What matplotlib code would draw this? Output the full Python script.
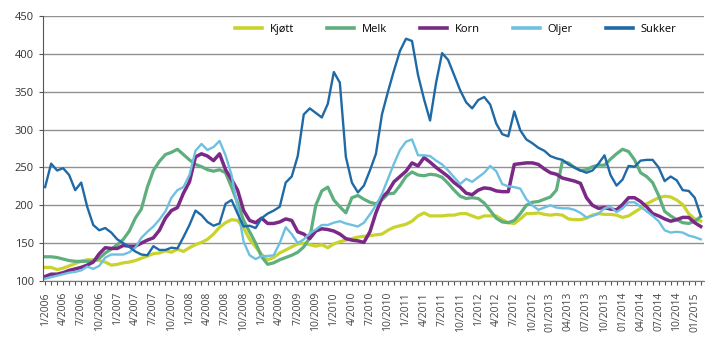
import numpy as np
import matplotlib
matplotlib.use("Agg")
import matplotlib.pyplot as plt

plt.rcParams['font.family'] = ['Open Sans', 'DejaVu Sans']

# monthly index values, 1/2006 - 2/2015
kjott = [118, 118, 115, 117, 120, 123, 126, 128, 128, 127, 125, 121, 122, 124, 125, 127, 130, 133, 136, 137,
         140, 138, 142, 139, 144, 148, 151, 155, 162, 171, 177, 181, 180, 170, 155, 145, 135, 128, 131, 137,
         141, 145, 149, 150, 148, 146, 148, 144, 149, 152, 154, 156, 158, 159, 160, 161, 162, 167, 171, 173,
         175, 179, 186, 190, 186, 186, 186, 187, 187, 189, 189, 186, 183, 186, 186, 186, 181, 177, 176, 182,
         189, 189, 190, 188, 187, 188, 187, 182, 181, 181, 183, 187, 189, 188, 188, 187, 184, 186, 191, 196,
         202, 206, 210, 212, 211, 207, 201, 189, 182, 179]
melk = [132, 132, 131, 129, 127, 126, 126, 126, 126, 130, 137, 142, 148, 155, 166, 183, 195, 224, 246, 258,
        267, 270, 274, 267, 260, 254, 251, 247, 245, 247, 243, 224, 203, 180, 165, 150, 132, 122, 124, 128,
        131, 134, 138, 145, 157, 200, 219, 224, 207, 198, 190, 210, 213, 208, 204, 202, 207, 215, 216, 226,
        238, 244, 240, 239, 241, 240, 237, 229, 220, 212, 209, 210, 209, 203, 193, 183, 178, 177, 180, 189,
        200, 204, 205, 208, 211, 220, 258, 256, 250, 246, 247, 251, 253, 253, 261, 268, 274, 271, 260, 243,
        238, 230, 213, 192, 186, 181, 177, 176, 179, 185]
korn = [106, 109, 109, 111, 114, 116, 118, 121, 125, 136, 144, 143, 143, 147, 146, 146, 150, 154, 157, 167,
        183, 193, 197, 216, 231, 264, 268, 265, 259, 268, 247, 234, 220, 193, 180, 177, 183, 176, 176, 178,
        182, 180, 165, 162, 156, 166, 169, 168, 166, 162, 156, 154, 153, 151, 165, 190, 210, 218, 231, 238,
        245, 256, 252, 263, 257, 250, 244, 238, 230, 224, 216, 214, 220, 223, 222, 219, 218, 218, 254, 255,
        256, 256, 254, 248, 243, 241, 236, 234, 232, 229, 210, 200, 196, 197, 195, 194, 201, 210, 210, 205,
        198, 189, 186, 182, 179, 181, 184, 184, 177, 172]
oljer = [103, 105, 107, 109, 111, 112, 114, 119, 116, 120, 131, 135, 135, 135, 138, 144, 157, 165, 172, 181,
         192, 210, 220, 224, 240, 272, 281, 273, 277, 285, 266, 240, 197, 152, 134, 129, 133, 133, 134, 150,
         171, 162, 150, 155, 163, 168, 174, 174, 177, 179, 176, 174, 172, 177, 188, 200, 215, 235, 255, 273,
         284, 287, 266, 266, 265, 259, 254, 246, 237, 228, 235, 231, 237, 243, 252, 245, 228, 225, 224, 222,
         208, 200, 194, 197, 200, 197, 196, 196, 194, 190, 184, 186, 189, 196, 198, 191, 196, 204, 204, 198,
         192, 186, 179, 167, 164, 165, 164, 160, 158, 155]
sukker = [224, 255, 246, 249, 240, 220, 230, 198, 174, 167, 170, 164, 155, 150, 145, 139, 135, 134, 146, 141,
          141, 144, 143, 158, 174, 193, 187, 178, 173, 176, 202, 207, 189, 172, 173, 170, 183, 189, 193, 198,
          230, 238, 265, 320, 328, 322, 316, 334, 376, 362, 264, 230, 217, 226, 246, 268, 320, 350, 378, 404,
          420, 417, 372, 340, 312, 362, 401, 392, 372, 352, 336, 328, 339, 343, 333, 308, 294, 291, 324, 299,
          287, 282, 276, 272, 265, 262, 260, 254, 250, 246, 243, 246, 255, 266, 240, 226, 234, 252, 251, 259,
          260, 260, 250, 232, 238, 233, 220, 219, 210, 186]

tick_labels = ['1/2006', '4/2006', '7/2006', '10/2006', '1/2007', '4/2007', '7/2007', '10/2007',
               '1/2008', '4/2008', '7/2008', '10/2008', '1/2009', '4/2009', '7/2009', '10/2009',
               '1/2010', '4/2010', '7/2010', '10/2010', '1/2011', '4/2011', '7/2011', '10/2011',
               '1/2012', '4/2012', '7/2012', '10/2012', '01/2013', '04/2013', '07/2013', '10/2013',
               '01/2014', '04/2014', '07/2014', '10/2014', '01/2015']

series = [('Kjøtt', kjott, '#c9d32c', 2.3),
          ('Melk', melk, '#5fae7e', 2.3),
          ('Korn', korn, '#7a2a86', 2.5),
          ('Oljer', oljer, '#6ec0e0', 1.7),
          ('Sukker', sukker, '#1f6aa6', 1.7)]

fig = plt.figure(figsize=(7.19, 3.51), dpi=100)
ax = fig.add_axes([0.0598, 0.1994, 0.919, 0.755])

x = np.arange(len(sukker))
for name, vals, col, lw in series:
    ax.plot(x, vals, color=col, lw=lw, label=name, solid_joinstyle='round')

ax.set_ylim(100, 450)
ax.set_yticks(np.arange(100, 451, 50))
ax.set_xlim(-0.35, 109.5)
ax.set_xticks(np.arange(0, 3 * len(tick_labels), 3))
ax.set_xticklabels(tick_labels, rotation=90, fontsize=7.5, color='#444444')
ax.set_xticks(x, minor=True)
ax.tick_params(axis='x', which='both', length=3, width=0.8, color='#555555', pad=5)
ax.tick_params(axis='y', length=3, width=0.8, color='#555555', labelsize=8, labelcolor='#333333')

ax.grid(axis='y', color='#929292', lw=1)
ax.set_axisbelow(True)
for s in ['top', 'right']:
    ax.spines[s].set_visible(False)
ax.spines['left'].set_color('#555555')
ax.spines['bottom'].set_color('#777777')

leg = fig.legend(loc='center', bbox_to_anchor=(0.634, 0.917), ncol=5, frameon=False,
                 fontsize=8, handlelength=2.4, handletextpad=0.7, columnspacing=3.0)
for line in leg.get_lines():
    line.set_linewidth(2.6)

fig.savefig('out.png', dpi=100)
